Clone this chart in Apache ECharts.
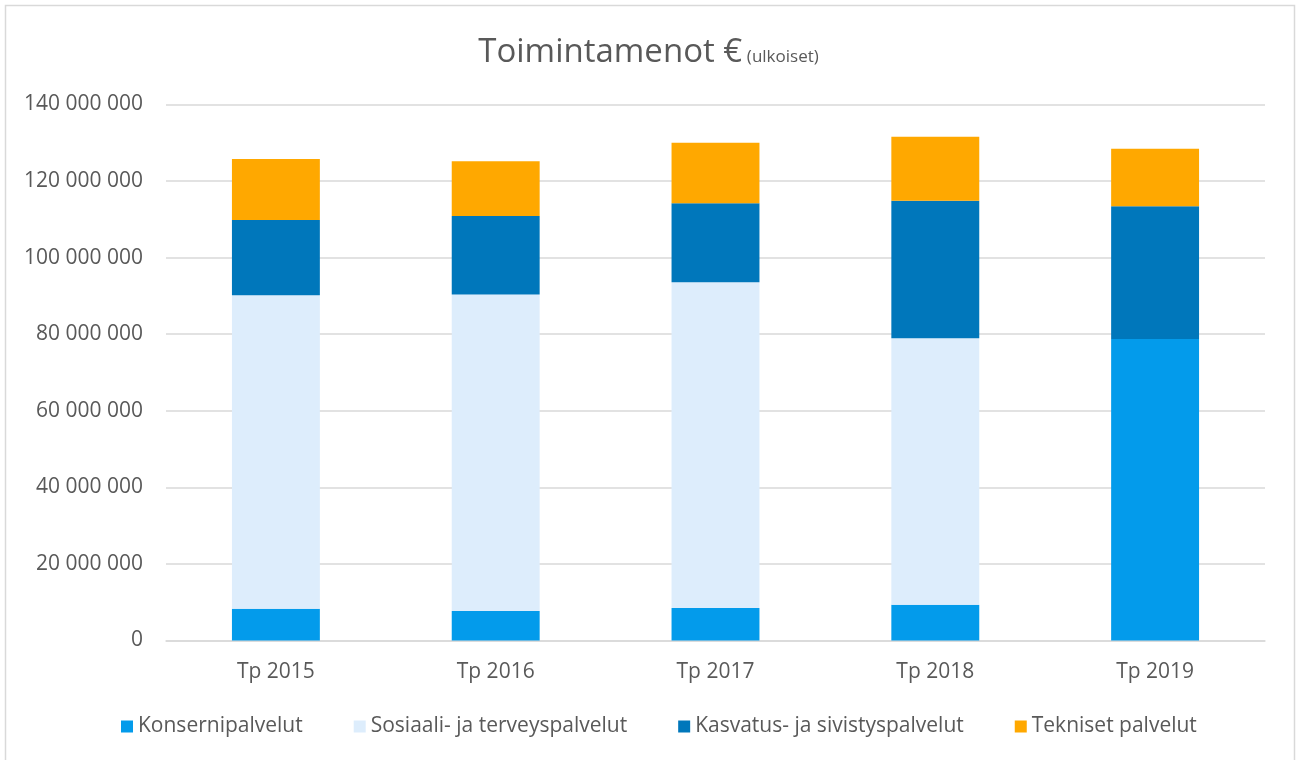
<!DOCTYPE html>
<html>
<head>
<meta charset="utf-8">
<script src="https://cdn.jsdelivr.net/npm/echarts@6/dist/echarts.min.js"></script>
<style>
    html, body {margin: 0; padding: 0; background: #fff;}
    #main {width: 1297px; height: 760px;}
</style>
</head>
<body>
<div id="main"></div>
<script>
    var years = ['Tp 2015', 'Tp 2016', 'Tp 2017', 'Tp 2018', 'Tp 2019'];
    var konserni = [8300000, 7700000, 8500000, 9350000, 78750000];
    var sosiaali = [81850000, 82700000, 85050000, 69600000, 0];
    var kasvatus = [19650000, 20500000, 20650000, 35900000, 34650000];
    var tekniset = [15950000, 14250000, 15800000, 16750000, 15050000];

    var font = '"Open Sans", "Noto Sans", sans-serif';
    var txt = '#595959';

    function fmt(v) {
        return String(v).replace(/\B(?=(\d{3})+(?!\d))/g, ' ');
    }

    function bar(name, color, data) {
        return {
            name: name, type: 'bar', stack: 'tot', barWidth: '40%',
            itemStyle: {color: color},
            data: data
        };
    }

    (function (charts) {
        charts.setOption({
            animation: false,
            textStyle: {fontFamily: font},
            title: {
                left: 'center', top: 31,
                text: '{a|Toimintamenot €} {b|(ulkoiset)}',
                textStyle: {
                    fontWeight: 'normal',
                    rich: {
                        a: {fontSize: 33, color: txt, fontFamily: font, fontWeight: 'normal'},
                        b: {fontSize: 17, color: txt, fontFamily: font, fontWeight: 'normal', padding: [9, 0, 0, 0]}
                    }
                }
            },
            graphic: [{
                type: 'rect', silent: true,
                shape: {x: 5.5, y: 5.5, width: 1289, height: 800},
                style: {fill: 'none', stroke: '#d9d9d9', lineWidth: 1.5}
            }],
            legend: {
                bottom: 18, left: 116,
                itemWidth: 12, itemHeight: 12, itemGap: 51,
                icon: 'rect',
                textStyle: {fontSize: 21, color: txt, fontFamily: font},
                data: ['Konsernipalvelut', 'Sosiaali- ja terveyspalvelut', 'Kasvatus- ja sivistyspalvelut', 'Tekniset palvelut']
            },
            grid: {left: 166, right: 32, top: 104.5, bottom: 119.5},
            xAxis: {
                type: 'category', data: years,
                axisLine: {lineStyle: {color: '#d9d9d9', width: 1.5}},
                axisTick: {show: false},
                axisLabel: {fontSize: 21, color: txt, margin: 21}
            },
            yAxis: {
                type: 'value', min: 0, max: 140000000, interval: 20000000,
                axisLine: {show: false}, axisTick: {show: false},
                splitLine: {lineStyle: {color: '#d9d9d9', width: 1.5}},
                axisLabel: {fontSize: 21, color: txt, margin: 23, formatter: fmt}
            },
            series: [
                bar('Konsernipalvelut', '#039beb', konserni),
                bar('Sosiaali- ja terveyspalvelut', '#ddedfc', sosiaali),
                bar('Kasvatus- ja sivistyspalvelut', '#0077bb', kasvatus),
                bar('Tekniset palvelut', '#ffa800', tekniset)
            ]
        });
    })(echarts.init(document.getElementById('main')));
</script>
</body>
</html>
